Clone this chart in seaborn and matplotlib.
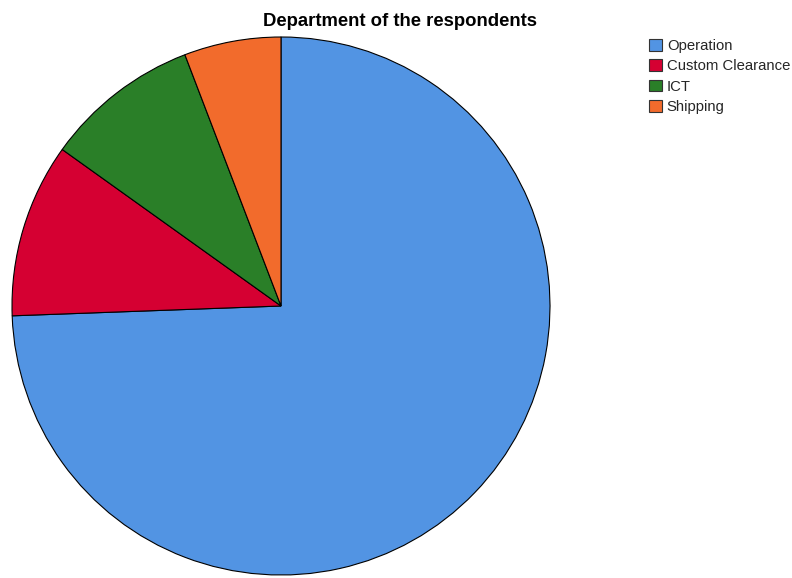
import matplotlib
matplotlib.use("Agg")
import matplotlib.pyplot as plt
import seaborn as sns
from matplotlib.patches import Patch

sns.set_theme(style="white")
plt.rcParams['font.family'] = ['Liberation Sans', 'DejaVu Sans']

categories = ["Operation", "Custom Clearance", "ICT", "Shipping"]
counts = [64, 9, 8, 5]
colors = ["#5294E3", "#D50032", "#2A7F28", "#F26B2C"]

fig = plt.figure(figsize=(7.92, 5.78), dpi=100)
cx, cy, r = 281, 306, 269
ax = fig.add_axes([(cx - r)/792, (578 - cy - r)/578, 2*r/792, 2*r/578])
ax.pie(counts, colors=colors, startangle=90, counterclock=False, radius=1,
       wedgeprops=dict(edgecolor="black", linewidth=0.8))
ax.set_xlim(-1.0, 1.0)
ax.set_ylim(-1.0, 1.0)
ax.set_aspect("equal")
ax.axis("off")

fig.text(400/792, 1 - 21/578, "Department of the respondents", ha="center", va="center",
         fontsize=13.3, fontweight="bold", color="black")

handles = [Patch(facecolor=c, edgecolor="#333333", linewidth=0.8, label=l) for c, l in zip(colors, categories)]
fig.legend(handles=handles, loc="upper left", bbox_to_anchor=(649/792, 1 - 39/578),
           frameon=False, fontsize=10.7, handlelength=0.85, handleheight=0.85,
           handletextpad=0.35, labelspacing=0.42, borderaxespad=0, borderpad=0)

fig.savefig("out.png", dpi=100)
